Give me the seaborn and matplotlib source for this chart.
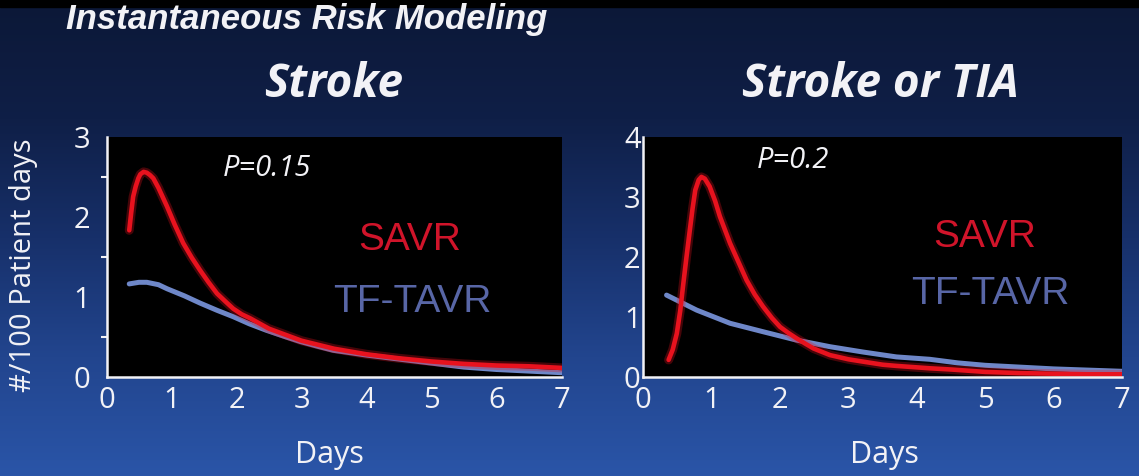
import numpy as np
import pandas as pd
import matplotlib
matplotlib.use("Agg")
import matplotlib.pyplot as plt
import matplotlib.patheffects as pe
from matplotlib.colors import LinearSegmentedColormap
import seaborn as sns

sns.set_theme(style="white")
plt.rcParams["font.family"] = ["Open Sans", "DejaVu Sans"]

# ---------------- data ----------------
stroke_savr_days = [0.35, 0.38, 0.41, 0.45, 0.49, 0.52, 0.57, 0.62, 0.67, 0.72, 0.80, 0.93,
                    1.05, 1.18, 1.31, 1.44, 1.57, 1.70, 1.83, 1.95, 2.08, 2.21, 2.5, 3.0,
                    3.5, 4.0, 4.5, 5.0, 5.5, 6.0, 6.5, 7.0]
stroke_savr_rate = [1.83, 2.05, 2.25, 2.38, 2.48, 2.53, 2.56, 2.55, 2.52, 2.48, 2.36, 2.13,
                    1.90, 1.67, 1.49, 1.33, 1.18, 1.04, 0.94, 0.85, 0.78, 0.73, 0.60, 0.45,
                    0.35, 0.28, 0.23, 0.19, 0.16, 0.14, 0.13, 0.11]
stroke_tavr_days = [0.35, 0.5, 0.62, 0.8, 0.93, 1.2, 1.44, 1.7, 1.95, 2.2, 2.46, 2.75, 2.98,
                    3.25, 3.49, 3.75, 4.0, 4.5, 5.0, 5.5, 6.0, 6.5, 7.0]
stroke_tavr_rate = [1.16, 1.18, 1.18, 1.15, 1.10, 1.01, 0.92, 0.83, 0.75, 0.66, 0.58, 0.50, 0.44,
                    0.38, 0.33, 0.30, 0.27, 0.22, 0.17, 0.12, 0.09, 0.07, 0.05]

tia_savr_days = [0.37, 0.43, 0.49, 0.54, 0.58, 0.63, 0.68, 0.72, 0.76, 0.81, 0.85, 0.90, 0.97,
                 1.05, 1.12, 1.20, 1.27, 1.40, 1.51, 1.63, 1.75, 1.88, 2.00, 2.12, 2.24, 2.37,
                 2.49, 2.73, 3.00, 3.22, 3.50, 3.70, 4.19, 4.5, 5.0, 5.5, 6.0, 6.5, 7.0]
tia_savr_rate = [0.28, 0.45, 0.72, 1.10, 1.50, 1.98, 2.44, 2.80, 3.11, 3.28, 3.33, 3.30, 3.17,
                 2.93, 2.67, 2.43, 2.22, 1.89, 1.61, 1.37, 1.17, 0.98, 0.83, 0.73, 0.64, 0.55,
                 0.47, 0.36, 0.29, 0.25, 0.20, 0.18, 0.14, 0.12, 0.08, 0.06, 0.05, 0.04, 0.04]
tia_tavr_days = [0.34, 0.78, 1.27, 1.75, 2.24, 2.73, 3.22, 3.7, 4.19, 4.6, 5.0, 5.5, 6.0, 6.5, 7.0]
tia_tavr_rate = [1.36, 1.11, 0.89, 0.75, 0.61, 0.50, 0.41, 0.33, 0.29, 0.23, 0.19, 0.16, 0.13, 0.11, 0.09]

panel_titles = ["Stroke", "Stroke or TIA"]
p_values = ["P=0.15", "P=0.2"]
series_names = ["SAVR", "TF-TAVR"]
y_max = [3, 4]
x_ticks = [0, 1, 2, 3, 4, 5, 6, 7]

RED = "#e8121e"
BLUE = "#6e87c8"
RED_TXT = "#d0142a"
BLUE_TXT = "#5866a6"
WHITE = "#f2f2f6"
ARIAL = ["Liberation Sans", "DejaVu Sans"]

# ---------------- figure & background ----------------
W, H = 1139, 476
fig = plt.figure(figsize=(W / 100, H / 100), dpi=100)
bg = fig.add_axes([0, 0, 1, 1], zorder=-10)
cmap = LinearSegmentedColormap.from_list(
    "bg", ["#0c1837", "#0f1f47", "#17306a", "#22458e", "#2a55a8"])
grad = np.linspace(0, 1, 256)[:, None] * np.ones((1, 64))
bg.imshow(grad, aspect="auto", cmap=cmap, extent=[0, 1, 0, 1], origin="upper")
bg.add_patch(plt.Rectangle((0, 1 - 7 / H), 1, 7 / H, color="black", transform=bg.transAxes))
bg.set_axis_off()

fig.text(66 / W, 1 - 29 / H, "Instantaneous Risk Modeling", color=WHITE,
         fontsize=25, fontweight="bold", style="italic",
         family=ARIAL, ha="left", va="baseline")

frames = [
    pd.DataFrame({"Days": stroke_savr_days + stroke_tavr_days,
                  "Rate": stroke_savr_rate + stroke_tavr_rate,
                  "Group": [series_names[0]] * len(stroke_savr_days) + [series_names[1]] * len(stroke_tavr_days)}),
    pd.DataFrame({"Days": tia_savr_days + tia_tavr_days,
                  "Rate": tia_savr_rate + tia_tavr_rate,
                  "Group": [series_names[0]] * len(tia_savr_days) + [series_names[1]] * len(tia_tavr_days)}),
]

axes_px = [(106.5, 561.5), (643.3, 1122.0)]
bottom_px, top_px = 376.7, 136.7
title_x = [334, 880]
p_pos = [(223, 168), (757, 161)]
days_pos = [(329, 455), (884, 455)]
savr_pos = [(0.553, 0.570), (0.605, 0.582)]
tavr_pos = [(0.498, 0.311), (0.559, 0.345)]

for i, df in enumerate(frames):
    x0, x1 = axes_px[i]
    ax = fig.add_axes([x0 / W, 1 - bottom_px / H, (x1 - x0) / W, (bottom_px - top_px) / H])
    ax.set_facecolor("black")
    sns.lineplot(data=df[df.Group == "TF-TAVR"], x="Days", y="Rate", ax=ax, color=BLUE,
                 lw=3.6, legend=False, sort=False, solid_capstyle="round")
    sns.lineplot(data=df[df.Group == "SAVR"], x="Days", y="Rate", ax=ax, color=RED,
                 lw=3.3, legend=False, sort=False, solid_capstyle="round",
                 path_effects=[pe.Stroke(linewidth=6.5, foreground=RED, alpha=0.3), pe.Normal()])
    ax.set_xlim(0, 7)
    ax.set_ylim(0, y_max[i])
    ax.set_xticks(x_ticks)
    ax.set_yticks(range(0, y_max[i] + 1))
    for s in ["top", "right"]:
        ax.spines[s].set_visible(False)
    for s in ["left", "bottom"]:
        ax.spines[s].set_color(WHITE)
        ax.spines[s].set_linewidth(1.8)
    ax.tick_params(axis="both", colors=WHITE, labelcolor=WHITE, labelsize=21,
                   length=7, width=1.8, direction="out")
    ax.tick_params(axis="x", pad=0)
    ax.tick_params(axis="y", pad=8 if i == 0 else 0, length=4 if i == 0 else 2)
    if i == 0:
        ax.set_yticks(np.arange(0.5, y_max[i], 1.0), minor=True)
        ax.tick_params(axis="y", which="minor", colors=WHITE, length=4, width=1.5, left=True)
    ax.set_xlabel("")
    ax.set_ylabel("")
    fig.text(days_pos[i][0] / W, 1 - days_pos[i][1] / H, "Days", color=WHITE,
             fontsize=22, ha="center", va="center")
    fig.text(title_x[i] / W, 1 - 97 / H, panel_titles[i], color=WHITE, fontsize=33,
             fontweight="bold", style="italic", ha="center", va="baseline")
    fig.text(p_pos[i][0] / W, 1 - p_pos[i][1] / H, p_values[i], color=WHITE, fontsize=21,
             style="italic", ha="left", va="center")
    ax.text(savr_pos[i][0], savr_pos[i][1], series_names[0], transform=ax.transAxes,
            color=RED_TXT, fontsize=28, family=ARIAL, ha="left", va="center")
    ax.text(tavr_pos[i][0], tavr_pos[i][1], series_names[1], transform=ax.transAxes,
            color=BLUE_TXT, fontsize=28, family=ARIAL, ha="left", va="center")

fig.text(24 / W, 1 - 265 / H, "#/100 Patient days", color=WHITE, fontsize=21,
         rotation=90, ha="center", va="center")

fig.savefig("out.png", dpi=100)
